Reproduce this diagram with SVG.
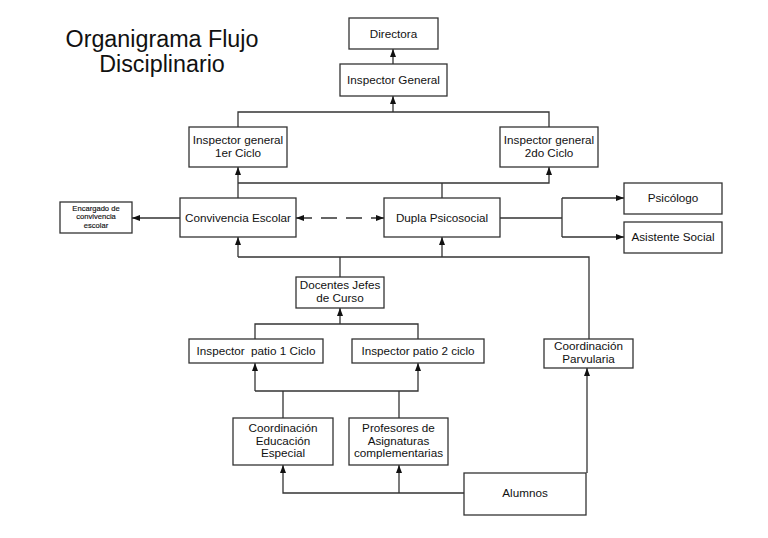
<svg xmlns="http://www.w3.org/2000/svg" width="768" height="538" viewBox="0 0 768 538">
<style>
.box{fill:#fff;stroke:#333;stroke-width:1.3}
.t{font-family:"Liberation Sans",Arial,sans-serif;font-size:11.7px;fill:#111;text-anchor:middle}
.s{font-family:"Liberation Sans",Arial,sans-serif;font-size:7.6px;fill:#111;text-anchor:middle;stroke:#111;stroke-width:0.15}
.title{font-family:"Liberation Sans",Arial,sans-serif;font-size:23.3px;fill:#111;text-anchor:middle}
.c{fill:none;stroke:#333;stroke-width:1.3}
.a{marker-end:url(#arr)}
.d{stroke-dasharray:16 9;marker-start:url(#arr);marker-end:url(#arr)}
</style>
<defs>
<marker id="arr" markerUnits="userSpaceOnUse" markerWidth="8" markerHeight="6" refX="8" refY="3" orient="auto-start-reverse">
<path d="M0,0 L8,3 L0,6 z" fill="#111"/>
</marker>
</defs>
<rect width="768" height="538" fill="#fff"/>
<g id="title">
<text class="title" x="162" y="47">Organigrama Flujo</text>
<text class="title" x="162" y="72">Disciplinario</text>
</g>
<g id="connectors">
<path class="c a" d="M393,64 V49"/>
<path class="c" d="M238,127 V112 H549 V127"/>
<path class="c a" d="M393,112 V96"/>
<path class="c a" d="M238,198 V167"/>
<path class="c a" d="M238,183 H549 V167"/>
<path class="c" d="M442,198 V183"/>
<path class="c a" d="M180,218 H132"/>
<path class="c d" d="M296,218 H384"/>
<path class="c" d="M500,218 H562 M562,198 V237"/>
<path class="c a" d="M562,198 H624"/>
<path class="c a" d="M562,237 H624"/>
<path class="c a" d="M238,257 V237"/>
<path class="c" d="M238,257 H589 V339"/>
<path class="c a" d="M442,257 V237"/>
<path class="c" d="M340,257 V277"/>
<path class="c a" d="M340,324 V308"/>
<path class="c" d="M255,339 V324 H418 V339"/>
<path class="c a" d="M255,391 V363"/>
<path class="c a" d="M255,391 H418 V363"/>
<path class="c" d="M283,391 V418 M399,391 V418"/>
<path class="c a" d="M464,493 H283 V465"/>
<path class="c a" d="M399,493 V465"/>
<path class="c a" d="M587,473 V368"/>
</g>
<g id="directora"><rect class="box" x="349" y="18" width="89" height="31"/><text class="t" x="393.5" y="37.5">Directora</text></g>
<g id="inspector-general"><rect class="box" x="340" y="64" width="107" height="32"/><text class="t" x="393.5" y="84">Inspector General</text></g>
<g id="ig-1er-ciclo"><rect class="box" x="189" y="127" width="98" height="40"/><text class="t" x="238" y="144">Inspector general</text><text class="t" x="238" y="157">1er Ciclo</text></g>
<g id="ig-2do-ciclo"><rect class="box" x="500" y="127" width="98" height="40"/><text class="t" x="549" y="144">Inspector general</text><text class="t" x="549" y="157">2do Ciclo</text></g>
<g id="encargado"><rect class="box" x="60" y="202" width="72" height="31"/><text class="s" x="96" y="210.5">Encargado de</text><text class="s" x="96" y="219">convivencia</text><text class="s" x="96" y="227.5">escolar</text></g>
<g id="convivencia"><rect class="box" x="180" y="198" width="116" height="39"/><text class="t" x="238" y="221.5">Convivencia Escolar</text></g>
<g id="dupla"><rect class="box" x="384" y="198" width="116" height="39"/><text class="t" x="442" y="221.5">Dupla Psicosocial</text></g>
<g id="psicologo"><rect class="box" x="624" y="183" width="98" height="31"/><text class="t" x="673" y="201.5">Psicólogo</text></g>
<g id="asistente"><rect class="box" x="624" y="222" width="98" height="31"/><text class="t" x="673" y="240.5">Asistente Social</text></g>
<g id="docentes"><rect class="box" x="296" y="277" width="88" height="31"/><text class="t" x="340" y="289">Docentes Jefes</text><text class="t" x="340" y="301.5">de Curso</text></g>
<g id="patio1"><rect class="box" x="189" y="339" width="134" height="24"/><text class="t" x="256" y="355" xml:space="preserve" style="white-space:pre">Inspector  patio 1 Ciclo</text></g>
<g id="patio2"><rect class="box" x="352" y="339" width="132" height="24"/><text class="t" x="418" y="355">Inspector patio 2 ciclo</text></g>
<g id="parvularia"><rect class="box" x="544" y="339" width="89" height="29"/><text class="t" x="588.5" y="350">Coordinación</text><text class="t" x="588.5" y="363">Parvularia</text></g>
<g id="educacion-especial"><rect class="box" x="233" y="418" width="100" height="47"/><text class="t" x="283" y="432">Coordinación</text><text class="t" x="283" y="444.5">Educación</text><text class="t" x="283" y="457">Especial</text></g>
<g id="profesores"><rect class="box" x="349" y="418" width="99" height="47"/><text class="t" x="398.5" y="432">Profesores de</text><text class="t" x="398.5" y="444.5">Asignaturas</text><text class="t" x="398.5" y="457">complementarias</text></g>
<g id="alumnos"><rect class="box" x="464" y="473" width="122" height="42"/><text class="t" x="525" y="497">Alumnos</text></g>
</svg>
